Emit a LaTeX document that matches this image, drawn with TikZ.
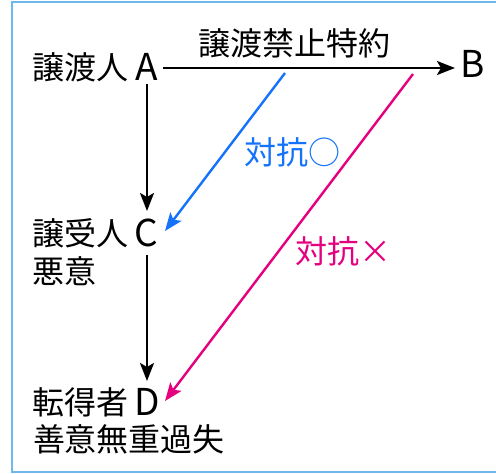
\documentclass[tikz,border=0pt]{standalone}
\usepackage{fontspec}
\setmainfont{Noto Sans CJK JP}
\usetikzlibrary{arrows.meta}
\definecolor{frameblue}{RGB}{110,185,235}
\definecolor{arrblue}{RGB}{20,115,250}
\definecolor{arrmag}{RGB}{228,0,127}
\tikzset{
  jp/.style={inner sep=0pt, font=\fontsize{32}{36}\selectfont},
  letter/.style={inner sep=0pt, font=\fontsize{37}{40}\selectfont},
  conn/.style={line width=2.4pt, -{Stealth[length=18pt,width=14pt,inset=4pt]}},
}
\begin{document}
\begin{tikzpicture}[x=1pt,y=-1pt]
\useasboundingbox (0,0) rectangle (496,474);
\draw[frameblue, line width=2.2pt] (497,2) -- (12,2) -- (12,472) -- (497,472);
% letters
\node[letter] (A) at (147,67) {A};
\node[letter] (B) at (473,64) {B};
\node[letter] (C) at (146,233) {C};
\node[letter] (D) at (147,402) {D};
% side texts
\node[jp] (tA) at (80.5,67) {譲渡人};
\node[jp] (tC) at (80.5,233) {譲受人};
\node[jp] (tC2) at (64,271) {悪意};
\node[jp] (tD) at (80.5,402) {転得者};
\node[jp] (tD2) at (129,439) {善意無重過失};
% anchor points for connectors
\coordinate (Ae) at (163,68);
\coordinate (Bw) at (455,68);
\coordinate (As) at (147,84);
\coordinate (Cn) at (147,211);
\coordinate (Cs) at (147,255);
\coordinate (Dn) at (147,381);
\coordinate (bS) at (285,73);
\coordinate (bE) at (165,231);
\coordinate (mS) at (413,74);
\coordinate (mE) at (165,401);
\draw[conn] (Ae) -- (Bw);
\draw[conn] (As) -- (Cn);
\draw[conn] (Cs) -- (Dn);
\draw[conn, arrblue] (bS) -- (bE);
\draw[conn, arrmag] (mS) -- (mE);
% labels
\node[jp] (l1) at (294,43) {譲渡禁止特約};
\node[jp, arrblue] (l2) at (292,152) {対抗○};
\node[jp, arrmag] (l3) at (343,251) {対抗×};
\end{tikzpicture}
\end{document}
